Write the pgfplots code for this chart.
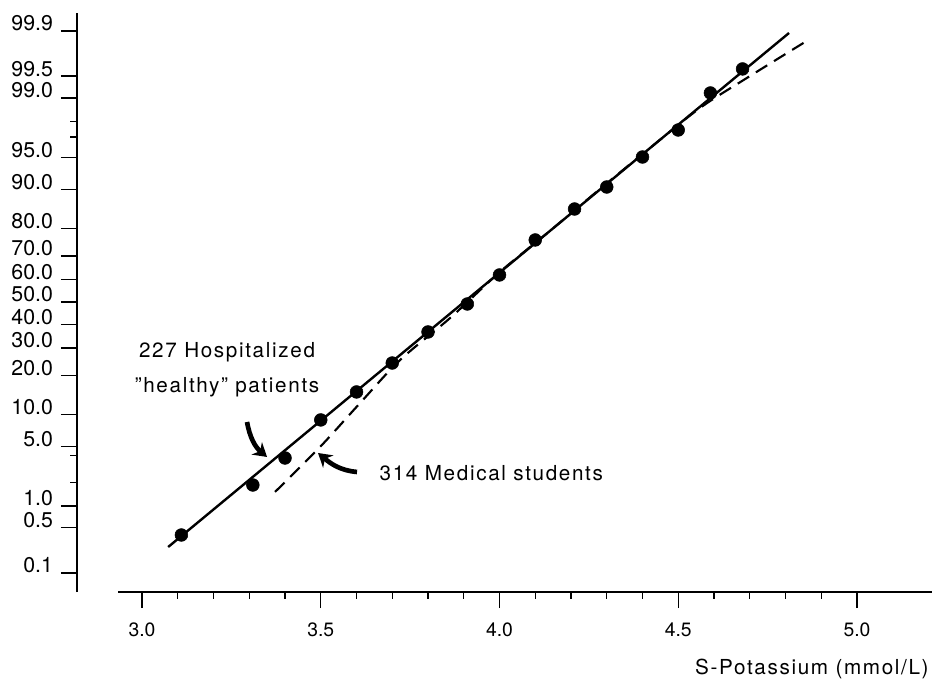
\documentclass[border=0pt]{standalone}
\usepackage{fontspec}
\setmainfont{TeX Gyre Heros}
\newfontfamily\spaced[LetterSpace=8]{TeX Gyre Heros}
\usepackage{pgfplots}
\usepackage{pgfplotstable}
\pgfplotsset{compat=1.18}
\usetikzlibrary{arrows.meta}

% x = S-Potassium (mmol/L); z = normal score of cumulative percentage
\pgfplotstableread{
x z
3.11 -2.657
3.31 -2.087
3.40 -1.779
3.50 -1.345
3.60 -1.026
3.70 -0.696
3.80 -0.342
3.91 -0.023
4.00 0.308
4.10 0.707
4.21 1.060
4.30 1.311
4.40 1.653
4.50 1.961
4.59 2.383
4.68 2.657
}\patients

\pgfplotstableread{
x z
3.073 -2.794
4.810 3.067
}\fitpatients

\pgfplotstableread{
x z
3.372 -2.166
3.498 -1.653
3.610 -1.152
3.722 -0.661
3.862 -0.182
4.001 0.342
4.141 0.810
4.281 1.288
4.421 1.756
4.561 2.212
4.692 2.554
4.855 2.965
}\students

\newcommand\ylab[1]{\fontsize{16}{19}\selectfont #1}
\newcommand\xlab[1]{\fontsize{14.5}{17}\selectfont #1}

\begin{document}
\begin{tikzpicture}
\begin{axis}[
  scale only axis, width=641.25pt, height=434.25pt,
  xmin=2.818, xmax=5.210, ymin=-3.307, ymax=3.295,
  axis x line*=bottom, axis y line*=left,
  x axis line style={-, shorten <=30.75pt, line width=1.1pt},
  y axis line style={-, line width=1.1pt},
  tick align=outside,
  major tick length=12pt, minor tick length=5pt,
  every tick/.style={black, line width=0.9pt},
  xtick={3,3.5,4,4.5,5},
  xticklabels={\xlab{3.0},\xlab{3.5},\xlab{4.0},\xlab{4.5},\xlab{5.0}},
  minor xtick={3.1,3.2,3.3,3.4,3.6,3.7,3.8,3.9,4.1,4.2,4.3,4.4,4.6,4.7,4.8,4.9},
  ytick={3.090,2.576,2.326,1.645,1.2816,0.8416,0.5244,0.2533,0,-0.2533,-0.5244,-0.8416,-1.2816,-1.645,-2.326,-2.576,-3.090},
  yticklabels={\ylab{99.9},\ylab{99.5},\ylab{99.0},\ylab{95.0},\ylab{90.0},\ylab{80.0},\ylab{70.0},\ylab{60.0},\ylab{50.0},\ylab{40.0},\ylab{30.0},\ylab{20.0},\ylab{10.0},\ylab{5.0},\ylab{1.0},\ylab{0.5},\ylab{0.1}},
  minor ytick={2.054,1.881,-1.751,-2.054},
  /pgf/number format/assume math mode=true,
  xticklabel style={yshift=-7.5pt},
  yticklabel style={anchor=base east, xshift=-2.5pt},
  xlabel={\spaced S-Potassium (mmol/L)},
  xlabel style={font=\fontsize{15.5}{18}\selectfont, at={(axis description cs:1,0)}, anchor=east, xshift=1pt, yshift=-58pt},
  clip=false,
]
\addplot[black, line width=1.8pt] table[x=x, y=z] {\fitpatients};
\addplot[black, line width=1.6pt, dash pattern=on 10pt off 6pt, smooth] table[x=x, y=z] {\students};
\addplot[only marks, mark=*, mark size=4.8pt, black] table[x=x, y=z] {\patients};

\node[font=\fontsize{15.5}{26}\selectfont\spaced, align=center] at (axis cs:3.2378,-0.7754) {227 Hospitalized\\”healthy” patients};
\node[font=\fontsize{15.5}{18}\selectfont\spaced, anchor=west] at (axis cs:3.6517,-1.9498) {314 Medical students};
\draw[line width=3.5pt, -{Stealth[length=10pt, width=12pt]}] (axis cs:3.2937,-1.3683) to[out=-80, in=140] (axis cs:3.3497,-1.7674);
\draw[line width=3.5pt, -{Stealth[length=10pt, width=12pt]}] (axis cs:3.6014,-1.9384) to[out=175, in=-40] (axis cs:3.4923,-1.7218);
\end{axis}
\pgfresetboundingbox
\path ([shift={(-57.75pt,-69.75pt)}]current axis.south west) rectangle ([shift={(1.5pt,9.75pt)}]current axis.north east);
\end{tikzpicture}
\end{document}
